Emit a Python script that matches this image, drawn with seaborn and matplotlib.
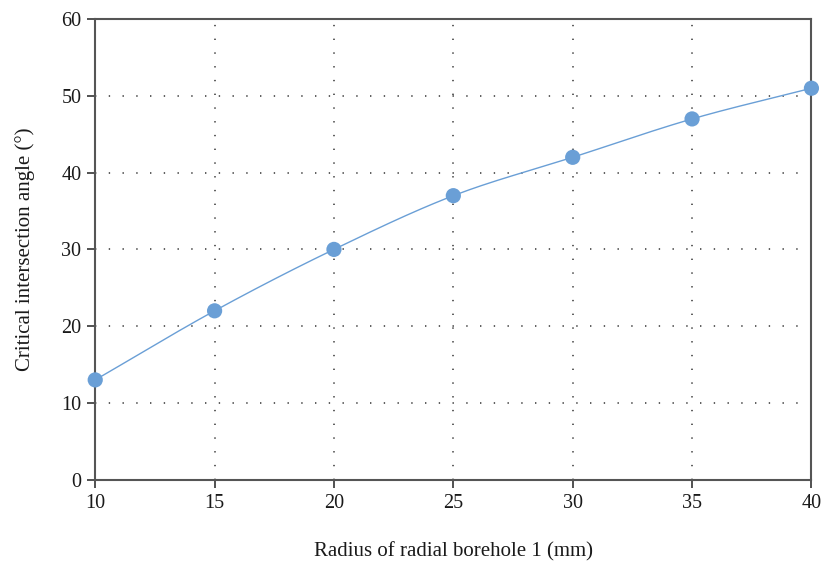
import numpy as np
import pandas as pd
import seaborn as sns
import matplotlib
matplotlib.use("Agg")
import matplotlib.pyplot as plt

radius = [10, 15, 20, 25, 30, 35, 40]
angle = [13, 22, 30, 37, 42, 47, 51]
x_ticks = [10, 15, 20, 25, 30, 35, 40]
y_ticks = [0, 10, 20, 30, 40, 50, 60]

sns.set_theme(style="white")
plt.rcParams["font.family"] = ["Liberation Serif", "DejaVu Serif"]

df = pd.DataFrame({"radius": radius, "angle": angle})


def catmull_rom(xs, ys, n=30):
    """Smooth curve through the points (Catmull-Rom, endpoints mirrored)."""
    p = np.column_stack([xs, ys]).astype(float)
    ext = np.vstack([2 * p[0] - p[1], p, 2 * p[-1] - p[-2]])
    out = []
    for i in range(1, len(ext) - 2):
        p0, p1, p2, p3 = ext[i - 1], ext[i], ext[i + 1], ext[i + 2]
        t = np.linspace(0, 1, n, endpoint=False)[:, None]
        seg = 0.5 * ((2 * p1) + (-p0 + p2) * t + (2 * p0 - 5 * p1 + 4 * p2 - p3) * t ** 2
                     + (-p0 + 3 * p1 - 3 * p2 + p3) * t ** 3)
        out.append(seg)
    out.append(p[-1][None, :])
    return np.vstack(out)


curve = catmull_rom(radius, angle)
curve_df = pd.DataFrame({"radius": curve[:, 0], "angle": curve[:, 1]})

color = "#6a9fd6"
fig, ax = plt.subplots(figsize=(8.28, 5.63), dpi=100)
fig.subplots_adjust(left=0.115, right=0.98, top=0.966, bottom=0.148)

sns.lineplot(data=curve_df, x="radius", y="angle", ax=ax, color=color,
             linewidth=1.0, sort=False, estimator=None)
sns.scatterplot(data=df, x="radius", y="angle", ax=ax, color=color,
                s=120, edgecolor="none", zorder=5, clip_on=False)

ax.set_xlim(10, 40)
ax.set_ylim(0, 60)
ax.set_xticks(x_ticks)
ax.set_yticks(y_ticks)
ax.grid(True, color="#333333", linestyle=(0, (0.9, 8.1)), linewidth=1.1)

for s in ax.spines.values():
    s.set_color("#555555")
    s.set_linewidth(1.5)
ax.tick_params(axis="both", which="major", direction="out", length=6, width=1.2,
               color="#333333", labelsize=14.5, labelcolor="#1a1a1a", pad=4)
ax.tick_params(bottom=True, left=True)

ax.set_xlabel("Radius of radial borehole 1 (mm)", fontsize=15, color="#1a1a1a", labelpad=21)
ax.set_ylabel("Critical intersection angle (°)", fontsize=15, color="#1a1a1a", labelpad=19)

fig.savefig("out.png", dpi=100)
